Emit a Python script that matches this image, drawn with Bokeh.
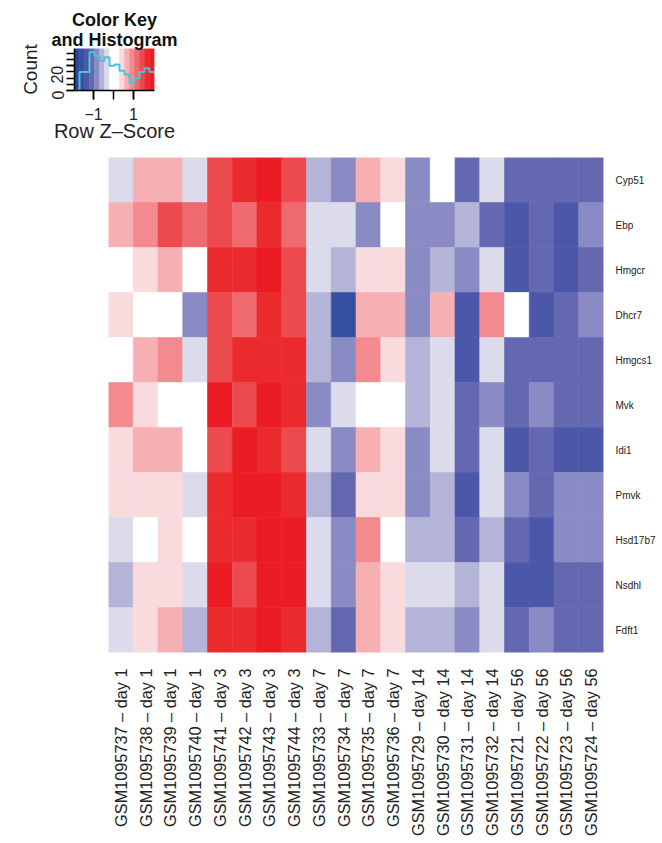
import math
from bokeh.plotting import figure
from bokeh.models import ColumnDataSource, FactorRange, Range1d, FixedTicker, LinearColorMapper, Title
from bokeh.transform import transform
from bokeh.layouts import column, row
from bokeh.embed import file_html
from bokeh.resources import INLINE

FONT = "Liberation Sans"

# ---------------- data ----------------
samples = [
    "GSM1095737 – day 1", "GSM1095738 – day 1", "GSM1095739 – day 1", "GSM1095740 – day 1",
    "GSM1095741 – day 3", "GSM1095742 – day 3", "GSM1095743 – day 3", "GSM1095744 – day 3",
    "GSM1095733 – day 7", "GSM1095734 – day 7", "GSM1095735 – day 7", "GSM1095736 – day 7",
    "GSM1095729 – day 14", "GSM1095730 – day 14", "GSM1095731 – day 14", "GSM1095732 – day 14",
    "GSM1095721 – day 56", "GSM1095722 – day 56", "GSM1095723 – day 56", "GSM1095724 – day 56",
]
genes = ["Cyp51", "Ebp", "Hmgcr", "Dhcr7", "Hmgcs1", "Mvk", "Idi1", "Pmvk", "Hsd17b7", "Nsdhl", "Fdft1"]

cyp51 = [-0.4, 0.6, 0.6, -0.4, 1.4, 1.6, 1.9, 1.4, -0.6, -0.9, 0.6, 0.4, -0.9, -0.1, -1.1, -0.4, -1.1, -1.1, -1.1, -1.1]
ebp = [0.6, 0.9, 1.4, 1.1, 1.4, 1.1, 1.6, 1.1, -0.4, -0.4, -0.9, -0.1, -0.9, -0.9, -0.6, -1.1, -1.4, -1.1, -1.4, -0.9]
hmgcr = [-0.1, 0.4, 0.6, -0.1, 1.6, 1.6, 1.9, 1.4, -0.4, -0.6, 0.4, 0.4, -0.9, -0.6, -0.9, -0.4, -1.4, -1.1, -1.4, -1.1]
dhcr7 = [0.4, -0.1, -0.1, -0.9, 1.4, 1.1, 1.6, 1.4, -0.6, -1.65, 0.6, 0.6, -0.9, 0.6, -1.4, 0.9, -0.1, -1.4, -1.1, -0.9]
hmgcs1 = [-0.1, 0.6, 0.9, -0.4, 1.4, 1.6, 1.6, 1.6, -0.6, -0.9, 0.9, 0.4, -0.6, -0.4, -1.4, -0.4, -1.1, -1.1, -1.1, -1.1]
mvk = [0.9, 0.4, -0.1, -0.1, 1.9, 1.4, 1.9, 1.6, -0.9, -0.4, -0.1, -0.1, -0.6, -0.4, -1.1, -0.9, -1.1, -0.9, -1.1, -1.1]
idi1 = [0.4, 0.6, 0.6, -0.1, 1.4, 1.9, 1.6, 1.4, -0.4, -0.9, 0.6, 0.4, -0.9, -0.4, -1.1, -0.4, -1.4, -1.1, -1.4, -1.4]
pmvk = [0.4, 0.4, 0.4, -0.4, 1.6, 1.9, 1.9, 1.6, -0.6, -1.1, 0.4, 0.4, -0.9, -0.6, -1.4, -0.4, -0.9, -1.1, -0.9, -0.9]
hsd17b7 = [-0.4, -0.1, 0.4, -0.1, 1.6, 1.6, 1.9, 1.9, -0.4, -0.9, 0.9, -0.1, -0.6, -0.6, -1.1, -0.6, -1.1, -1.4, -0.9, -0.9]
nsdhl = [-0.6, 0.4, 0.4, -0.4, 1.9, 1.4, 1.9, 1.9, -0.4, -0.9, 0.6, 0.4, -0.4, -0.4, -0.6, -0.4, -1.4, -1.4, -1.1, -1.1]
fdft1 = [-0.4, 0.4, 0.6, -0.6, 1.6, 1.6, 1.9, 1.6, -0.6, -1.1, 0.6, 0.4, -0.6, -0.6, -0.9, -0.4, -1.1, -0.9, -1.1, -1.1]

rows = [cyp51, ebp, hmgcr, dhcr7, hmgcs1, mvk, idi1, pmvk, hsd17b7, nsdhl, fdft1]

# colour key breaks and histogram counts
key_breaks = [-1.95, -1.7, -1.45, -1.2, -0.95, -0.7, -0.45, -0.2, 0.05,
              0.3, 0.55, 0.8, 1.05, 1.3, 1.55, 1.8, 2.05]
hist_counts = [0, 15, 15, 31, 28, 24, 27, 20, 21, 16, 13, 6, 10, 15, 18, 15]

palette = ["#2b469c", "#3550a0", "#4b57a8", "#6468b0", "#8a8bc4", "#b4b3d8", "#dcdbec", "#ffffff",
           "#ffffff", "#f9dadd", "#f6b0b4", "#f28a8f", "#ee6a6e", "#ec4a4e", "#eb2a2e", "#ec1c24"]

# ---------------- colour key ----------------
key = figure(width=240, height=153, x_range=Range1d(key_breaks[0], key_breaks[-1]),
             y_range=Range1d(0, 34), output_backend="svg", toolbar_location=None,
             min_border_left=74, min_border_right=86, min_border_top=48, min_border_bottom=63)
key.quad(left=key_breaks[:-1], right=key_breaks[1:], bottom=0, top=34,
         fill_color=palette, line_color=palette, line_width=0.5)
key.step(x=key_breaks, y=hist_counts + [hist_counts[-1]], mode="after",
         line_color="#4cc3d9", line_width=2)
key.grid.visible = False
key.outline_line_color = None
key.background_fill_color = None

for line, so in (("and Histogram", -3), ("Color Key", -1)):
    t = Title(text=line, align="center", text_font=FONT, text_font_size="18px",
              text_font_style="bold", text_color="#111111", standoff=so, offset=0)
    key.add_layout(t, "above")

xa = key.xaxis[0]
xa.ticker = FixedTicker(ticks=[-1, 1], minor_ticks=[-1, 0, 1])
xa.major_label_overrides = {-1: "−1", 1: "1"}
xa.major_tick_out = 9
xa.major_tick_in = 0
xa.minor_tick_out = 9
xa.minor_tick_in = 0
xa.minor_tick_line_color = "black"
xa.major_tick_line_width = 1.5
xa.minor_tick_line_width = 1.5
xa.axis_line_width = 1.5
xa.major_label_text_font = FONT
xa.major_label_text_font_size = "16px"
xa.major_label_text_color = "#222222"
xa.major_label_standoff = 8
xa.axis_label = "Row Z–Score"
xa.axis_label_text_font = FONT
xa.axis_label_text_font_size = "20px"
xa.axis_label_text_font_style = "normal"
xa.axis_label_text_color = "#222222"
xa.axis_label_standoff = -3

ya = key.yaxis[0]
ya.ticker = FixedTicker(ticks=[0, 20], minor_ticks=[0, 5, 10, 15, 20, 25, 30])
ya.major_tick_out = 8
ya.major_tick_in = 0
ya.minor_tick_out = 8
ya.minor_tick_in = 0
ya.minor_tick_line_color = "black"
ya.major_tick_line_width = 1.5
ya.minor_tick_line_width = 1.5
ya.axis_line_width = 1.5
ya.major_label_orientation = math.pi / 2
ya.major_label_text_font = FONT
ya.major_label_text_font_size = "16px"
ya.major_label_text_color = "#222222"
ya.major_label_standoff = 9
ya.axis_label = "Count"
ya.axis_label_text_font = FONT
ya.axis_label_text_font_size = "19px"
ya.axis_label_text_font_style = "normal"
ya.axis_label_text_color = "#222222"
ya.axis_label_standoff = 2

# ---------------- heatmap ----------------
xs, ys, zs = [], [], []
for g, vals in zip(genes, rows):
    for s, v in zip(samples, vals):
        xs.append(s)
        ys.append(g)
        zs.append(v)
src = ColumnDataSource(dict(x=xs, y=ys, z=zs))
mapper = LinearColorMapper(palette=palette, low=key_breaks[0], high=key_breaks[-1])

heat = figure(width=660, height=685, x_range=FactorRange(factors=samples),
              y_range=FactorRange(factors=genes[::-1]), y_axis_location="right",
              output_backend="svg", toolbar_location=None,
              min_border_left=108, min_border_right=57, min_border_top=4, min_border_bottom=186)
heat.rect(x="x", y="y", width=1, height=1, source=src,
          fill_color=transform("z", mapper), line_color=transform("z", mapper), line_width=0.6)
heat.grid.visible = False
heat.outline_line_color = None

hx = heat.xaxis[0]
hx.major_label_orientation = math.pi / 2
hx.major_label_text_font = FONT
hx.major_label_text_font_size = "16.3px"
hx.major_label_text_color = "#222222"
hx.major_label_standoff = 10
hx.major_tick_line_color = None
hx.axis_line_color = None

hy = heat.yaxis[0]
hy.major_label_text_font = FONT
hy.major_label_text_font_size = "10px"
hy.major_label_text_color = "#222222"
hy.major_label_standoff = 6
hy.major_tick_line_color = None
hy.axis_line_color = None

layout = column(row(key), heat, spacing=0)
open("out.html", "w").write(file_html(layout, INLINE))
